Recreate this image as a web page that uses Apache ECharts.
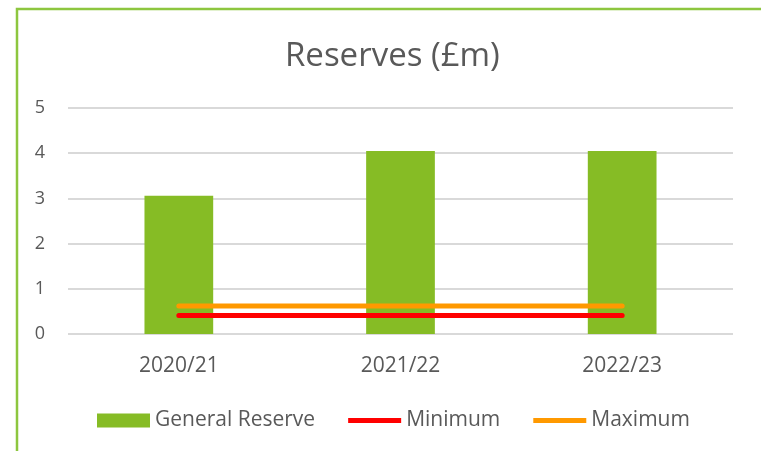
<!DOCTYPE html>
<html>
<head>
<meta charset="utf-8">
<script src="https://cdn.jsdelivr.net/npm/echarts@6/dist/echarts.min.js"></script>
<style>
  html, body { margin: 0; padding: 0; background: #fff; }
  #chart { width: 761px; height: 451px; }
</style>
</head>
<body>
<div id="chart"></div>
<script>
// data
var years = ['2020/21', '2021/22', '2022/23'];
var generalReserve = [3.06, 4.05, 4.05];
var minimum = [0.41, 0.41, 0.41];
var maximum = [0.62, 0.62, 0.62];

var textColor = '#595959';
var fontFamily = '"Open Sans", sans-serif';

// thin bar in the middle of a 54x14 box, so the line keys stay thin
var lineKey = 'path://M0,0 L0.01,0 M0,14 L0.01,14 M0,4.5 L54,4.5 L54,9.5 L0,9.5 Z';

var chart = echarts.init(document.getElementById('chart'));

var option = {
  animation: false,
  backgroundColor: '#fff',
  title: {
    text: 'Reserves (£m)',
    left: 280,
    top: 35,
    textStyle: { color: textColor, fontSize: 33, fontWeight: 'normal', fontFamily: fontFamily }
  },
  // the green frame round the chart
  graphic: [{
    type: 'polyline',
    shape: { points: [[17, 451], [17, 9], [761, 9]] },
    style: { stroke: '#8DC63F', lineWidth: 2.5, fill: null },
    silent: true
  }],
  legend: {
    bottom: 15,
    left: 92,
    itemWidth: 53,
    itemHeight: 14,
    itemGap: 33,
    textStyle: { color: textColor, fontSize: 21, fontFamily: fontFamily },
    data: [
      { name: 'General Reserve', icon: 'rect' },
      { name: 'Minimum', icon: lineKey },
      { name: 'Maximum', icon: lineKey }
    ]
  },
  grid: { left: 68, right: 28, top: 108, bottom: 117 },
  xAxis: {
    type: 'category',
    data: years,
    axisLine: { show: false },
    axisTick: { show: false },
    axisLabel: { color: textColor, fontSize: 21, fontFamily: fontFamily, margin: 22 }
  },
  yAxis: {
    type: 'value',
    min: 0,
    max: 5,
    interval: 1,
    axisLine: { show: false },
    axisTick: { show: false },
    axisLabel: { color: textColor, fontSize: 18, fontFamily: fontFamily, margin: 23 },
    splitLine: { lineStyle: { color: '#D9D9D9', width: 2 } }
  },
  series: [
    {
      name: 'General Reserve',
      type: 'bar',
      data: generalReserve,
      barWidth: '31%',
      itemStyle: { color: '#86BC25' }
    },
    {
      name: 'Minimum',
      type: 'line',
      data: minimum,
      symbol: 'none',
      itemStyle: { color: '#FF0000' },
      lineStyle: { color: '#FF0000', width: 5, cap: 'round' }
    },
    {
      name: 'Maximum',
      type: 'line',
      data: maximum,
      symbol: 'none',
      itemStyle: { color: '#FF9900' },
      lineStyle: { color: '#FF9900', width: 5, cap: 'round' }
    }
  ]
};

chart.setOption(option);
</script>
</body>
</html>
